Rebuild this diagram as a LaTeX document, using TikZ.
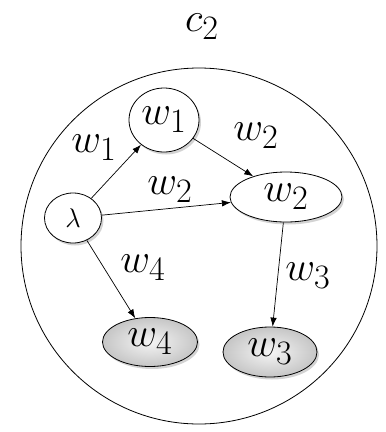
\documentclass[tikz,border=0pt]{standalone}
\usepackage{graphicx}
\usepackage{tikz}
\usetikzlibrary{arrows.meta,shapes.geometric,shadows}
\newcommand{\gr}[1]{\scalebox{1.65}{$#1$}}
\tikzset{
  zust/.style={ellipse,draw=black,line width=0.8pt,fill=white,inner sep=0pt,
    drop shadow={opacity=0.35,shadow xshift=2pt,shadow yshift=-2.5pt},
    font=\fontsize{24.88}{30}\selectfont},
  blatt/.style={zust,inner color=gray!8,outer color=gray!45},
  kante/.style={-{Latex[length=9pt,width=6.5pt]},line width=0.7pt},
  gew/.style={font=\fontsize{24.88}{30}\selectfont},
}

\begin{document}
\begin{tikzpicture}[x=1pt,y=-1pt]
  \useasboundingbox (0,0) rectangle (386,432);
  \draw[line width=0.8pt] (199,246) circle[radius=178];
  \node[gew] (titel) at (202,27) {\gr{c_2}};
  \node[zust,minimum width=57,minimum height=50,font=\fontsize{20.74}{24}\selectfont] (lam) at (73,218) {\scalebox{1.3}{$\lambda$}};
  \node[zust,minimum width=70,minimum height=64] (w1) at (164,120) {\gr{w_1}};
  \node[zust,minimum width=112,minimum height=50] (w2) at (286,197) {\gr{w_2}};
  \node[blatt,minimum width=94,minimum height=50] (w3) at (270,352) {\gr{w_3}};
  \node[blatt,minimum width=95,minimum height=49] (w4) at (150,342) {\gr{w_4}};
  \draw[kante] (lam) -- (w1);
  \draw[kante] (lam) -- (w2);
  \draw[kante] (w1) -- (w2);
  \draw[kante] (lam) -- (w4);
  \draw[kante] (w2) -- (w3);
  \node[gew] (g1) at (94,148) {\gr{w_1}};
  \node[gew] (g2) at (170,190) {\gr{w_2}};
  \node[gew] (g3) at (256,136) {\gr{w_2}};
  \node[gew] (g4) at (143,268) {\gr{w_4}};
  \node[gew] (g5) at (308,276) {\gr{w_3}};
\end{tikzpicture}
\end{document}
